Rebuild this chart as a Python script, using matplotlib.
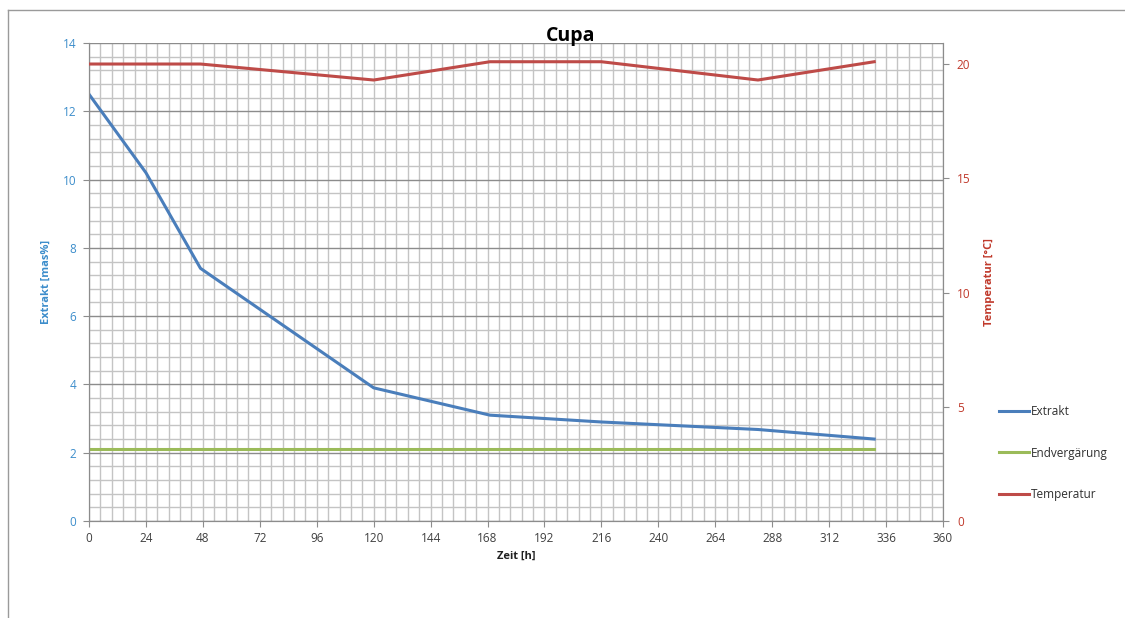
import numpy as np
import matplotlib
matplotlib.use("Agg")
from matplotlib import pyplot as plt
from matplotlib.ticker import MultipleLocator
from matplotlib.lines import Line2D

# data
zeit = [0, 24, 47, 120, 169, 216, 282, 331]
extrakt = [12.5, 10.2, 7.4, 3.9, 3.1, 2.9, 2.68, 2.4]
endvergaerung = [2.1, 2.1, 2.1, 2.1, 2.1, 2.1, 2.1, 2.1]
temperatur = [20.0, 20.0, 20.0, 19.3, 20.1, 20.1, 19.3, 20.1]

blue = '#4A7EBB'
green = '#9BBB59'
red = '#BE4B48'
blue_txt = '#3C8DCB'
red_txt = '#C0392B'

plt.rcParams['font.family'] = ['Open Sans', 'DejaVu Sans']

fig = plt.figure(figsize=(11.25, 6.18), dpi=100)
ax = fig.add_axes([89 / 1125, 1 - 521 / 618, 854 / 1125, 478 / 618])
ax2 = ax.twinx()

ax.plot(zeit, extrakt, color=blue, lw=2.2, label='Extrakt', zorder=3)
ax.plot(zeit, endvergaerung, color=green, lw=2.2, label='Endvergärung', zorder=3)
ax2.plot(zeit, temperatur, color=red, lw=2.2, label='Temperatur', zorder=3)

ax.set_xlim(0, 360)
ax.set_ylim(0, 14)
ax2.set_ylim(0, 20.92)

ax.xaxis.set_major_locator(MultipleLocator(24))
ax.xaxis.set_minor_locator(MultipleLocator(4.8))
ax.yaxis.set_major_locator(MultipleLocator(2))
ax.yaxis.set_minor_locator(MultipleLocator(0.4))
ax2.yaxis.set_major_locator(MultipleLocator(5))

ax.grid(which='minor', axis='both', color='#C4C4C4', lw=1.0)
ax.grid(which='major', axis='x', color='#C4C4C4', lw=1.0)
ax.grid(which='major', axis='y', color='#8C8C8C', lw=1.0)
ax.set_axisbelow(True)

for a in (ax, ax2):
    for s in a.spines.values():
        s.set_color('#8C8C8C')
    a.spines['top'].set_visible(False)

ax.tick_params(axis='x', which='major', length=4, color='#8C8C8C', labelsize=8.5, labelcolor='#404040', pad=4)
ax.tick_params(axis='x', which='minor', length=0)
ax.tick_params(axis='y', which='major', length=4, color='#8C8C8C', labelsize=8.5, labelcolor=blue_txt, pad=5)
ax.tick_params(axis='y', which='minor', length=0)
ax2.tick_params(axis='y', which='major', length=4, color='#8C8C8C', labelsize=8.5, labelcolor=red_txt, pad=6)

ax.set_xlabel('Zeit [h]', fontsize=8, fontweight='bold', color='#202020', labelpad=4)
ax.set_ylabel('Extrakt [mas%]', fontsize=8, fontweight='bold', color=blue_txt, labelpad=8)
ax2.set_ylabel('Temperatur [°C]', fontsize=8, fontweight='bold', color=red_txt, labelpad=10)

fig.text(571 / 1125, 1 - 36 / 618, 'Cupa', ha='center', va='center',
         fontsize=14, fontweight='bold', color='black')

h1, l1 = ax.get_legend_handles_labels()
h2, l2 = ax2.get_legend_handles_labels()
fig.legend(h1 + h2, l1 + l2, loc='center left', bbox_to_anchor=(988 / 1125, 1 - 453 / 618),
           frameon=False, fontsize=8.5, handlelength=2.6, handletextpad=0.1,
           labelspacing=2.4, labelcolor='#303030')

# outer chart frame
fig.add_artist(Line2D([8 / 1125, 8 / 1125], [0, 1 - 10 / 618], color='#9A9A9A', lw=1.0))
fig.add_artist(Line2D([8 / 1125, 1], [1 - 10 / 618, 1 - 10 / 618], color='#9A9A9A', lw=1.0))

fig.savefig('out.png', dpi=100)
